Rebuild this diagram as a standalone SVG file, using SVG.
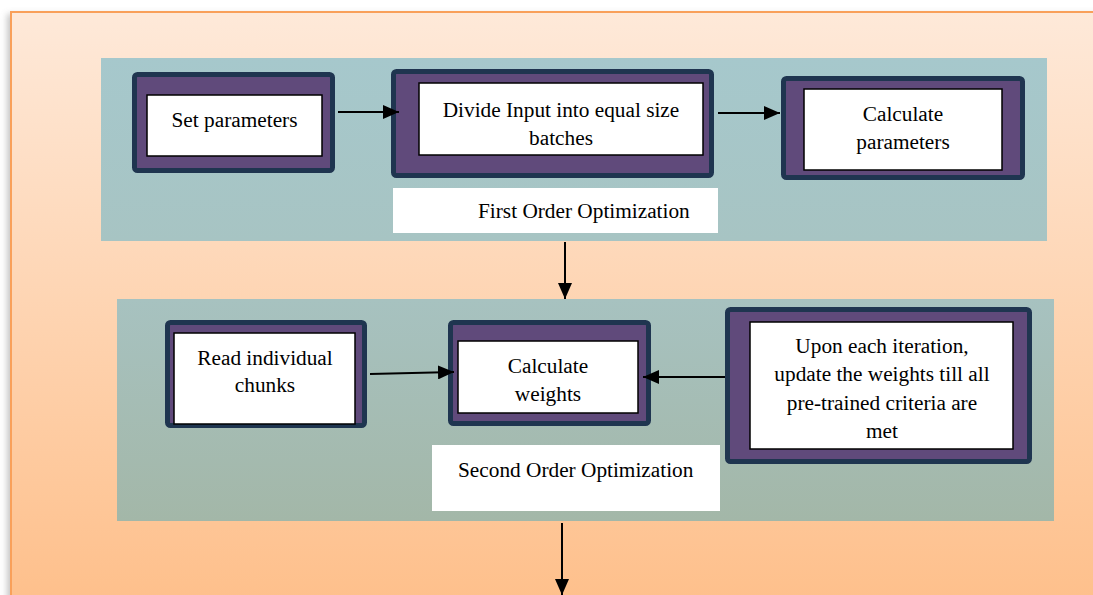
<svg xmlns="http://www.w3.org/2000/svg" width="1093" height="595" viewBox="0 0 1093 595">
  <defs>
    <linearGradient id="bgGrad" x1="0" y1="0" x2="0" y2="1">
      <stop offset="0" stop-color="#fee9d9"/>
      <stop offset="1" stop-color="#febf8a"/>
    </linearGradient>
    <linearGradient id="panel1Grad" x1="0" y1="0" x2="0" y2="1">
      <stop offset="0" stop-color="#a6c8cc"/>
      <stop offset="1" stop-color="#a7c4c3"/>
    </linearGradient>
    <linearGradient id="panel2Grad" x1="0" y1="0" x2="0" y2="1">
      <stop offset="0" stop-color="#a7c2c0"/>
      <stop offset="1" stop-color="#a3b7a8"/>
    </linearGradient>
    <filter id="frameShadow" x="-5%" y="-5%" width="110%" height="110%">
      <feDropShadow dx="-3" dy="3" stdDeviation="3" flood-color="#808080" flood-opacity="0.45"/>
    </filter>
    <marker id="arrowHead" markerUnits="userSpaceOnUse" markerWidth="16" markerHeight="14" refX="16" refY="7" orient="auto">
      <path d="M0,0 L16,7 L0,14 z" fill="#000"/>
    </marker>
  </defs>
  <style>
    .outer { fill: #604a7b; stroke: #1f3550; stroke-width: 5; }
    .inner { fill: #ffffff; stroke: #000000; stroke-width: 1.5; }
    .label { fill: #ffffff; }
    .txt { font-family: "Liberation Serif", "Times New Roman", serif; font-size: 21.3px; fill: #000; }
    .mid { text-anchor: middle; }
    .conn { stroke: #000; stroke-width: 2; fill: none; marker-end: url(#arrowHead); }
  </style>

  <rect width="1093" height="595" fill="#ffffff"/>

  <!-- orange backdrop frame -->
  <rect x="11" y="12" width="1100" height="600" fill="url(#bgGrad)" stroke="#f9a05a" stroke-width="2" filter="url(#frameShadow)"/>

  <!-- stage panels -->
  <g id="panel-first-order">
    <rect x="101" y="58" width="946" height="183" fill="url(#panel1Grad)"/>
    <rect class="label" x="393" y="188" width="325" height="45"/>
    <text class="txt" x="478" y="218">First Order Optimization</text>
  </g>
  <g id="panel-second-order">
    <rect x="117" y="299" width="937" height="222" fill="url(#panel2Grad)"/>
    <rect class="label" x="432" y="445" width="288" height="66"/>
    <text class="txt" x="458" y="477">Second Order Optimization</text>
  </g>

  <!-- steps of the first stage -->
  <g id="node-set-parameters">
    <rect class="outer" x="134.5" y="74.5" width="198" height="96" rx="3"/>
    <rect class="inner" x="147" y="95" width="175" height="61"/>
    <text class="txt mid" x="234.5" y="127">Set parameters</text>
  </g>
  <g id="node-divide-input">
    <rect class="outer" x="393.5" y="71.5" width="318" height="104" rx="3"/>
    <rect class="inner" x="419" y="83" width="284" height="72"/>
    <text class="txt mid" x="561" y="117">Divide Input into equal size</text>
    <text class="txt mid" x="561" y="145">batches</text>
  </g>
  <g id="node-calculate-parameters">
    <rect class="outer" x="783.5" y="78.5" width="239" height="99" rx="3"/>
    <rect class="inner" x="804" y="89" width="198" height="81"/>
    <text class="txt mid" x="903" y="121">Calculate</text>
    <text class="txt mid" x="903" y="149">parameters</text>
  </g>

  <!-- steps of the second stage -->
  <g id="node-read-chunks">
    <rect class="outer" x="167.5" y="322.5" width="197" height="103" rx="3"/>
    <rect class="inner" x="174" y="333" width="181" height="91"/>
    <text class="txt mid" x="265" y="365">Read individual</text>
    <text class="txt mid" x="265" y="392">chunks</text>
  </g>
  <g id="node-calculate-weights">
    <rect class="outer" x="450.5" y="322.5" width="198" height="101" rx="3"/>
    <rect class="inner" x="458" y="341" width="180" height="72"/>
    <text class="txt mid" x="548" y="373">Calculate</text>
    <text class="txt mid" x="548" y="401">weights</text>
  </g>
  <g id="node-update-weights">
    <rect class="outer" x="727.5" y="309.5" width="302" height="152" rx="3"/>
    <rect class="inner" x="750" y="322" width="263" height="127"/>
    <text class="txt mid" x="882" y="353">Upon each iteration,</text>
    <text class="txt mid" x="882" y="381">update the weights till all</text>
    <text class="txt mid" x="882" y="410">pre-trained criteria are</text>
    <text class="txt mid" x="882" y="438">met</text>
  </g>

  <!-- connectors -->
  <g id="connectors">
    <line class="conn" x1="338" y1="112" x2="399" y2="112"/>
    <line class="conn" x1="718" y1="113" x2="780" y2="113"/>
    <line class="conn" x1="565" y1="242" x2="565" y2="299"/>
    <line class="conn" x1="370" y1="374" x2="454" y2="372"/>
    <line class="conn" x1="725" y1="377" x2="643" y2="377"/>
    <line class="conn" x1="562" y1="523" x2="562" y2="595"/>
  </g>
</svg>
